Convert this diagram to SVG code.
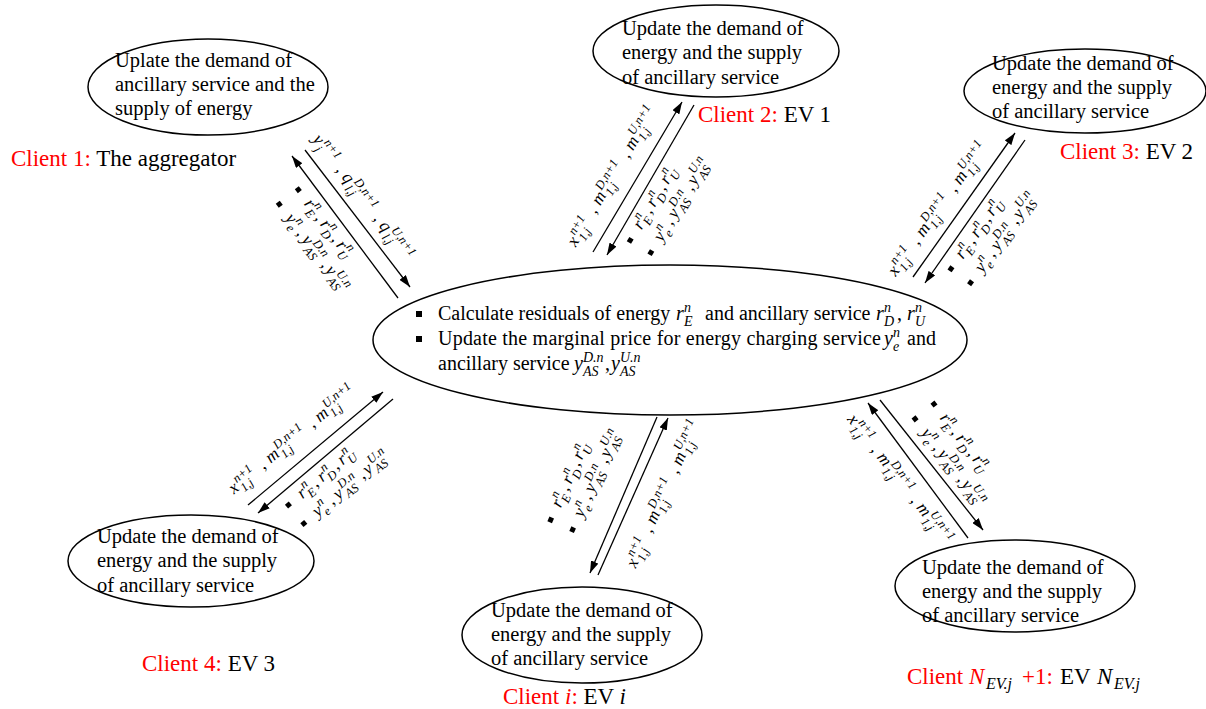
<svg xmlns="http://www.w3.org/2000/svg" width="1206" height="709" viewBox="0 0 1206 709">
  <style>
    .shape { fill: #fff; stroke: #000; stroke-width: 1.5; }
    .nt { font-family: "Liberation Serif", "Times New Roman", serif; font-size: 20.5px; fill: #000; }
    .ct { font-family: "Liberation Serif", "Times New Roman", serif; font-size: 20px; fill: #000; }
    .cl { font-family: "Liberation Serif", "Times New Roman", serif; font-size: 23px; fill: #000; }
    .red { fill: #ff0000; }
    .it { font-style: italic; }
    .sm { font-size: 14px; }
    .mi { font-family: "Liberation Serif", "Times New Roman", serif; font-style: italic; font-size: 17.5px; fill: #000; }
    .ms { font-family: "Liberation Serif", "Times New Roman", serif; font-style: italic; font-size: 12.5px; fill: #000; }
    .mp { font-family: "Liberation Serif", "Times New Roman", serif; font-size: 17.5px; fill: #000; }
    .sub16 { font-size: 16px; }
    .wire { stroke: #000; stroke-width: 1.3; fill: none; marker-end: url(#ah); }
    .dot { fill: #000; }
  </style>
  <defs>
    <marker id="ah" viewBox="0 0 12 8" refX="12" refY="4" markerWidth="12" markerHeight="8" markerUnits="userSpaceOnUse" orient="auto">
      <path d="M0,0 L12,4 L0,8 z" fill="#000"/>
    </marker>
  </defs>
  <rect width="1206" height="709" fill="#fff"/>

  <!-- central coordinator -->
  <g id="server">
    <ellipse class="shape" cx="670" cy="340" rx="297" ry="75"/>
    <rect class="dot" x="416" y="311" width="6" height="6"/>
    <text class="ct" x="438" y="320">Calculate residuals of energy</text>
    <text class="ct it" x="676" y="320">r</text>
    <text class="ct it sm" x="684" y="312">n</text>
    <text class="ct it sm" x="684" y="326">E</text>
    <text class="ct" x="705" y="320">and ancillary service</text>
    <text class="ct it" x="876" y="320">r</text>
    <text class="ct it sm" x="884" y="312">n</text>
    <text class="ct it sm" x="884" y="326">D</text>
    <text class="ct" x="897" y="320">,</text>
    <text class="ct it" x="907" y="320">r</text>
    <text class="ct it sm" x="915" y="312">n</text>
    <text class="ct it sm" x="915" y="326">U</text>
    <rect class="dot" x="416" y="336" width="6" height="6"/>
    <text class="ct" x="438" y="345" textLength="443" lengthAdjust="spacing">Update the marginal price for energy charging service</text>
    <text class="ct it" x="884" y="345">y</text>
    <text class="ct it sm" x="893" y="337">n</text>
    <text class="ct it sm" x="893" y="351">e</text>
    <text class="ct" x="907" y="345">and</text>
    <text class="ct" x="438" y="370">ancillary service</text>
    <text class="ct it" x="574" y="370">y</text>
    <text class="ct it sm" x="583" y="362">D.n</text>
    <text class="ct it sm" x="583" y="376">AS</text>
    <text class="ct" x="605" y="370">,</text>
    <text class="ct it" x="611" y="370">y</text>
    <text class="ct it sm" x="620" y="362">U.n</text>
    <text class="ct it sm" x="620" y="376">AS</text>
  </g>

  <!-- clients -->
  <g id="client1">
    <ellipse class="shape" cx="208" cy="87" rx="120" ry="48"/>
    <text class="nt" x="115" y="67">Uplate the demand of</text>
    <text class="nt" x="115" y="91">ancillary service and the</text>
    <text class="nt" x="115" y="115">supply of energy</text>
    <text class="cl" x="11" y="166"><tspan class="red">Client 1:</tspan> The aggregator</text>
  </g>
  <g id="client2">
    <ellipse class="shape" cx="716" cy="51" rx="123" ry="46"/>
    <text class="nt" x="622" y="35">Update the demand of</text>
    <text class="nt" x="622" y="59">energy and the supply</text>
    <text class="nt" x="622" y="84">of ancillary service</text>
    <text class="cl" x="698" y="122"><tspan class="red">Client 2:</tspan> EV 1</text>
  </g>
  <g id="client3">
    <ellipse class="shape" cx="1085" cy="91" rx="121" ry="42"/>
    <text class="nt" x="992" y="70">Update the demand of</text>
    <text class="nt" x="992" y="94">energy and the supply</text>
    <text class="nt" x="992" y="118">of ancillary service</text>
    <text class="cl" x="1060" y="159"><tspan class="red">Client 3:</tspan> EV 2</text>
  </g>
  <g id="client4">
    <ellipse class="shape" cx="191" cy="561" rx="123" ry="46"/>
    <text class="nt" x="97" y="543">Update the demand of</text>
    <text class="nt" x="97" y="567">energy and the supply</text>
    <text class="nt" x="97" y="592">of ancillary service</text>
    <text class="cl" x="142" y="671"><tspan class="red">Client 4:</tspan> EV 3</text>
  </g>
  <g id="client-i">
    <ellipse class="shape" cx="582" cy="635" rx="120" ry="48"/>
    <text class="nt" x="491" y="617">Update the demand of</text>
    <text class="nt" x="491" y="641">energy and the supply</text>
    <text class="nt" x="491" y="665">of ancillary service</text>
    <text class="cl" x="503" y="704"><tspan class="red">Client </tspan><tspan class="red it">i</tspan><tspan class="red">:</tspan> EV <tspan class="it">i</tspan></text>
  </g>
  <g id="client-n">
    <ellipse class="shape" cx="1015" cy="586" rx="120" ry="46"/>
    <text class="nt" x="922" y="574">Update the demand of</text>
    <text class="nt" x="922" y="598">energy and the supply</text>
    <text class="nt" x="922" y="622">of ancillary service</text>
    <text class="cl red" x="907" y="684">Client</text>
    <text class="cl red it" x="969" y="684">N</text>
    <text class="ms red sub16" x="986" y="689">EV.j</text>
    <text class="cl red" x="1022" y="684">+1:</text>
    <text class="cl" x="1060" y="684">EV</text>
    <text class="cl it" x="1097" y="684">N</text>
    <text class="ms sub16" x="1114" y="689">EV.j</text>
  </g>

  <!-- message exchange -->
  <g id="connectors">
    <path class="wire" d="M305,150 L410,287"/>
    <path class="wire" d="M398,298 L292,156"/>
    <path class="wire" d="M593,252 L682,102"/>
    <path class="wire" d="M694,105 L607,255"/>
    <path class="wire" d="M913,277 L1015,133"/>
    <path class="wire" d="M1025,140 L925,283"/>
    <path class="wire" d="M248,505 L383,392"/>
    <path class="wire" d="M393,399 L258,513"/>
    <path class="wire" d="M598,575 L668,418"/>
    <path class="wire" d="M657,417 L590,573"/>
    <path class="wire" d="M968,538 L868,403"/>
    <path class="wire" d="M880,400 L983,530"/>

    <!-- aggregator -> coordinator -->
    <g transform="translate(312.1,139.5) rotate(52.5)">
      <text class="mi" x="0" y="0">y</text><text class="ms" x="9.5" y="-7">n+1</text><text class="ms" x="9.5" y="5">j</text>
      <text class="mp" x="38.5" y="0">,</text>
      <text class="mi" x="48" y="0">q</text><text class="ms" x="59" y="-7">D,n+1</text><text class="ms" x="59" y="5">l,j</text>
      <text class="mp" x="100" y="0">,</text>
      <text class="mi" x="109" y="0">q</text><text class="ms" x="120" y="-7">U,n+1</text><text class="ms" x="120" y="5">l,j</text>
    </g>
    <!-- coordinator -> aggregator -->
    <g transform="translate(293.2,190.4) rotate(52.5)">
      <rect class="dot" x="0" y="-7" width="5" height="5"/>
      <text class="mi" x="17" y="0">r</text><text class="ms" x="24.5" y="-7">n</text><text class="ms" x="24.5" y="5">E</text>
      <text class="mp" x="35" y="0">,</text>
      <text class="mi" x="43" y="0">r</text><text class="ms" x="50.5" y="-7">n</text><text class="ms" x="50.5" y="5">D</text>
      <text class="mp" x="62" y="0">,</text>
      <text class="mi" x="69.5" y="0">r</text><text class="ms" x="77" y="-7">n</text><text class="ms" x="77" y="5">U</text>
      <rect class="dot" x="0" y="17" width="5" height="5"/>
      <text class="mi" x="17" y="24">y</text><text class="ms" x="25.5" y="17">n</text><text class="ms" x="25.5" y="29">e</text>
      <text class="mp" x="36" y="24">,</text>
      <text class="mi" x="44" y="24">y</text><text class="ms" x="53.5" y="17">D.n</text><text class="ms" x="53.5" y="29">AS</text>
      <text class="mp" x="76" y="24">,</text>
      <text class="mi" x="82.5" y="24">y</text><text class="ms" x="92" y="17">U.n</text><text class="ms" x="92" y="29">AS</text>
    </g>

    <!-- EV 1 -->
    <g transform="translate(575.8,247.6) rotate(-59.3)">
      <text class="mi" x="0" y="0">x</text><text class="ms" x="9.5" y="-7">n+1</text><text class="ms" x="9.5" y="5">1,j</text>
      <text class="mp" x="38.5" y="0">,</text>
      <text class="mi" x="48" y="0">m</text><text class="ms" x="62" y="-7">D,n+1</text><text class="ms" x="62" y="5">1,j</text>
      <text class="mp" x="103" y="0">,</text>
      <text class="mi" x="112" y="0">m</text><text class="ms" x="126" y="-7">U,n+1</text><text class="ms" x="126" y="5">1,j</text>
    </g>
    <g transform="translate(632.8,244.8) rotate(-59.3)">
      <rect class="dot" x="0" y="-7" width="5" height="5"/>
      <text class="mi" x="17" y="0">r</text><text class="ms" x="24.5" y="-7">n</text><text class="ms" x="24.5" y="5">E</text>
      <text class="mp" x="35" y="0">,</text>
      <text class="mi" x="43" y="0">r</text><text class="ms" x="50.5" y="-7">n</text><text class="ms" x="50.5" y="5">D</text>
      <text class="mp" x="62" y="0">,</text>
      <text class="mi" x="69.5" y="0">r</text><text class="ms" x="77" y="-7">n</text><text class="ms" x="77" y="5">U</text>
      <rect class="dot" x="0" y="17" width="5" height="5"/>
      <text class="mi" x="17" y="24">y</text><text class="ms" x="25.5" y="17">n</text><text class="ms" x="25.5" y="29">e</text>
      <text class="mp" x="36" y="24">,</text>
      <text class="mi" x="44" y="24">y</text><text class="ms" x="53.5" y="17">D.n</text><text class="ms" x="53.5" y="29">AS</text>
      <text class="mp" x="76" y="24">,</text>
      <text class="mi" x="82.5" y="24">y</text><text class="ms" x="92" y="17">U.n</text><text class="ms" x="92" y="29">AS</text>
    </g>

    <!-- EV 2 -->
    <g transform="translate(895.8,277.1) rotate(-54.7)">
      <text class="mi" x="0" y="0">x</text><text class="ms" x="9.5" y="-7">n+1</text><text class="ms" x="9.5" y="5">1,j</text>
      <text class="mp" x="38.5" y="0">,</text>
      <text class="mi" x="48" y="0">m</text><text class="ms" x="62" y="-7">D,n+1</text><text class="ms" x="62" y="5">1,j</text>
      <text class="mp" x="103" y="0">,</text>
      <text class="mi" x="112" y="0">m</text><text class="ms" x="126" y="-7">U,n+1</text><text class="ms" x="126" y="5">1,j</text>
    </g>
    <g transform="translate(953.2,273.5) rotate(-54.7)">
      <rect class="dot" x="0" y="-7" width="5" height="5"/>
      <text class="mi" x="17" y="0">r</text><text class="ms" x="24.5" y="-7">n</text><text class="ms" x="24.5" y="5">E</text>
      <text class="mp" x="35" y="0">,</text>
      <text class="mi" x="43" y="0">r</text><text class="ms" x="50.5" y="-7">n</text><text class="ms" x="50.5" y="5">D</text>
      <text class="mp" x="62" y="0">,</text>
      <text class="mi" x="69.5" y="0">r</text><text class="ms" x="77" y="-7">n</text><text class="ms" x="77" y="5">U</text>
      <rect class="dot" x="0" y="17" width="5" height="5"/>
      <text class="mi" x="17" y="24">y</text><text class="ms" x="25.5" y="17">n</text><text class="ms" x="25.5" y="29">e</text>
      <text class="mp" x="36" y="24">,</text>
      <text class="mi" x="44" y="24">y</text><text class="ms" x="53.5" y="17">D.n</text><text class="ms" x="53.5" y="29">AS</text>
      <text class="mp" x="76" y="24">,</text>
      <text class="mi" x="82.5" y="24">y</text><text class="ms" x="92" y="17">U.n</text><text class="ms" x="92" y="29">AS</text>
    </g>

    <!-- EV 3 -->
    <g transform="translate(234,494.6) rotate(-39.9)">
      <text class="mi" x="0" y="0">x</text><text class="ms" x="9.5" y="-7">n+1</text><text class="ms" x="9.5" y="5">1,j</text>
      <text class="mp" x="38.5" y="0">,</text>
      <text class="mi" x="48" y="0">m</text><text class="ms" x="62" y="-7">D,n+1</text><text class="ms" x="62" y="5">1,j</text>
      <text class="mp" x="103" y="0">,</text>
      <text class="mi" x="112" y="0">m</text><text class="ms" x="126" y="-7">U,n+1</text><text class="ms" x="126" y="5">1,j</text>
    </g>
    <g transform="translate(289.4,510.1) rotate(-39.9)">
      <rect class="dot" x="0" y="-7" width="5" height="5"/>
      <text class="mi" x="17" y="0">r</text><text class="ms" x="24.5" y="-7">n</text><text class="ms" x="24.5" y="5">E</text>
      <text class="mp" x="35" y="0">,</text>
      <text class="mi" x="43" y="0">r</text><text class="ms" x="50.5" y="-7">n</text><text class="ms" x="50.5" y="5">D</text>
      <text class="mp" x="62" y="0">,</text>
      <text class="mi" x="69.5" y="0">r</text><text class="ms" x="77" y="-7">n</text><text class="ms" x="77" y="5">U</text>
      <rect class="dot" x="0" y="17" width="5" height="5"/>
      <text class="mi" x="17" y="24">y</text><text class="ms" x="25.5" y="17">n</text><text class="ms" x="25.5" y="29">e</text>
      <text class="mp" x="36" y="24">,</text>
      <text class="mi" x="44" y="24">y</text><text class="ms" x="53.5" y="17">D.n</text><text class="ms" x="53.5" y="29">AS</text>
      <text class="mp" x="76" y="24">,</text>
      <text class="mi" x="82.5" y="24">y</text><text class="ms" x="92" y="17">U.n</text><text class="ms" x="92" y="29">AS</text>
    </g>

    <!-- EV i -->
    <g transform="translate(635.7,568.8) rotate(-66)">
      <text class="mi" x="0" y="0">x</text><text class="ms" x="9.5" y="-7">n+1</text><text class="ms" x="9.5" y="5">1,j</text>
      <text class="mp" x="38.5" y="0">,</text>
      <text class="mi" x="48" y="0">m</text><text class="ms" x="62" y="-7">D,n+1</text><text class="ms" x="62" y="5">1,j</text>
      <text class="mp" x="103" y="0">,</text>
      <text class="mi" x="112" y="0">m</text><text class="ms" x="126" y="-7">U,n+1</text><text class="ms" x="126" y="5">1,j</text>
    </g>
    <g transform="translate(553.8,524) rotate(-66)">
      <rect class="dot" x="0" y="-7" width="5" height="5"/>
      <text class="mi" x="17" y="0">r</text><text class="ms" x="24.5" y="-7">n</text><text class="ms" x="24.5" y="5">E</text>
      <text class="mp" x="35" y="0">,</text>
      <text class="mi" x="43" y="0">r</text><text class="ms" x="50.5" y="-7">n</text><text class="ms" x="50.5" y="5">D</text>
      <text class="mp" x="62" y="0">,</text>
      <text class="mi" x="69.5" y="0">r</text><text class="ms" x="77" y="-7">n</text><text class="ms" x="77" y="5">U</text>
      <rect class="dot" x="0" y="17" width="5" height="5"/>
      <text class="mi" x="17" y="24">y</text><text class="ms" x="25.5" y="17">n</text><text class="ms" x="25.5" y="29">e</text>
      <text class="mp" x="36" y="24">,</text>
      <text class="mi" x="44" y="24">y</text><text class="ms" x="53.5" y="17">D.n</text><text class="ms" x="53.5" y="29">AS</text>
      <text class="mp" x="76" y="24">,</text>
      <text class="mi" x="82.5" y="24">y</text><text class="ms" x="92" y="17">U.n</text><text class="ms" x="92" y="29">AS</text>
    </g>

    <!-- EV N -->
    <g transform="translate(846.7,419.6) rotate(52)">
      <text class="mi" x="0" y="0">x</text><text class="ms" x="9.5" y="-7">n+1</text><text class="ms" x="9.5" y="5">1,j</text>
      <text class="mp" x="38.5" y="0">,</text>
      <text class="mi" x="48" y="0">m</text><text class="ms" x="62" y="-7">D,n+1</text><text class="ms" x="62" y="5">1,j</text>
      <text class="mp" x="103" y="0">,</text>
      <text class="mi" x="112" y="0">m</text><text class="ms" x="126" y="-7">U,n+1</text><text class="ms" x="126" y="5">1,j</text>
    </g>
    <g transform="translate(928.9,404.9) rotate(52)">
      <rect class="dot" x="0" y="-7" width="5" height="5"/>
      <text class="mi" x="17" y="0">r</text><text class="ms" x="24.5" y="-7">n</text><text class="ms" x="24.5" y="5">E</text>
      <text class="mp" x="35" y="0">,</text>
      <text class="mi" x="43" y="0">r</text><text class="ms" x="50.5" y="-7">n</text><text class="ms" x="50.5" y="5">D</text>
      <text class="mp" x="62" y="0">,</text>
      <text class="mi" x="69.5" y="0">r</text><text class="ms" x="77" y="-7">n</text><text class="ms" x="77" y="5">U</text>
      <rect class="dot" x="0" y="17" width="5" height="5"/>
      <text class="mi" x="17" y="24">y</text><text class="ms" x="25.5" y="17">n</text><text class="ms" x="25.5" y="29">e</text>
      <text class="mp" x="36" y="24">,</text>
      <text class="mi" x="44" y="24">y</text><text class="ms" x="53.5" y="17">D.n</text><text class="ms" x="53.5" y="29">AS</text>
      <text class="mp" x="76" y="24">,</text>
      <text class="mi" x="82.5" y="24">y</text><text class="ms" x="92" y="17">U.n</text><text class="ms" x="92" y="29">AS</text>
    </g>
  </g>
</svg>
